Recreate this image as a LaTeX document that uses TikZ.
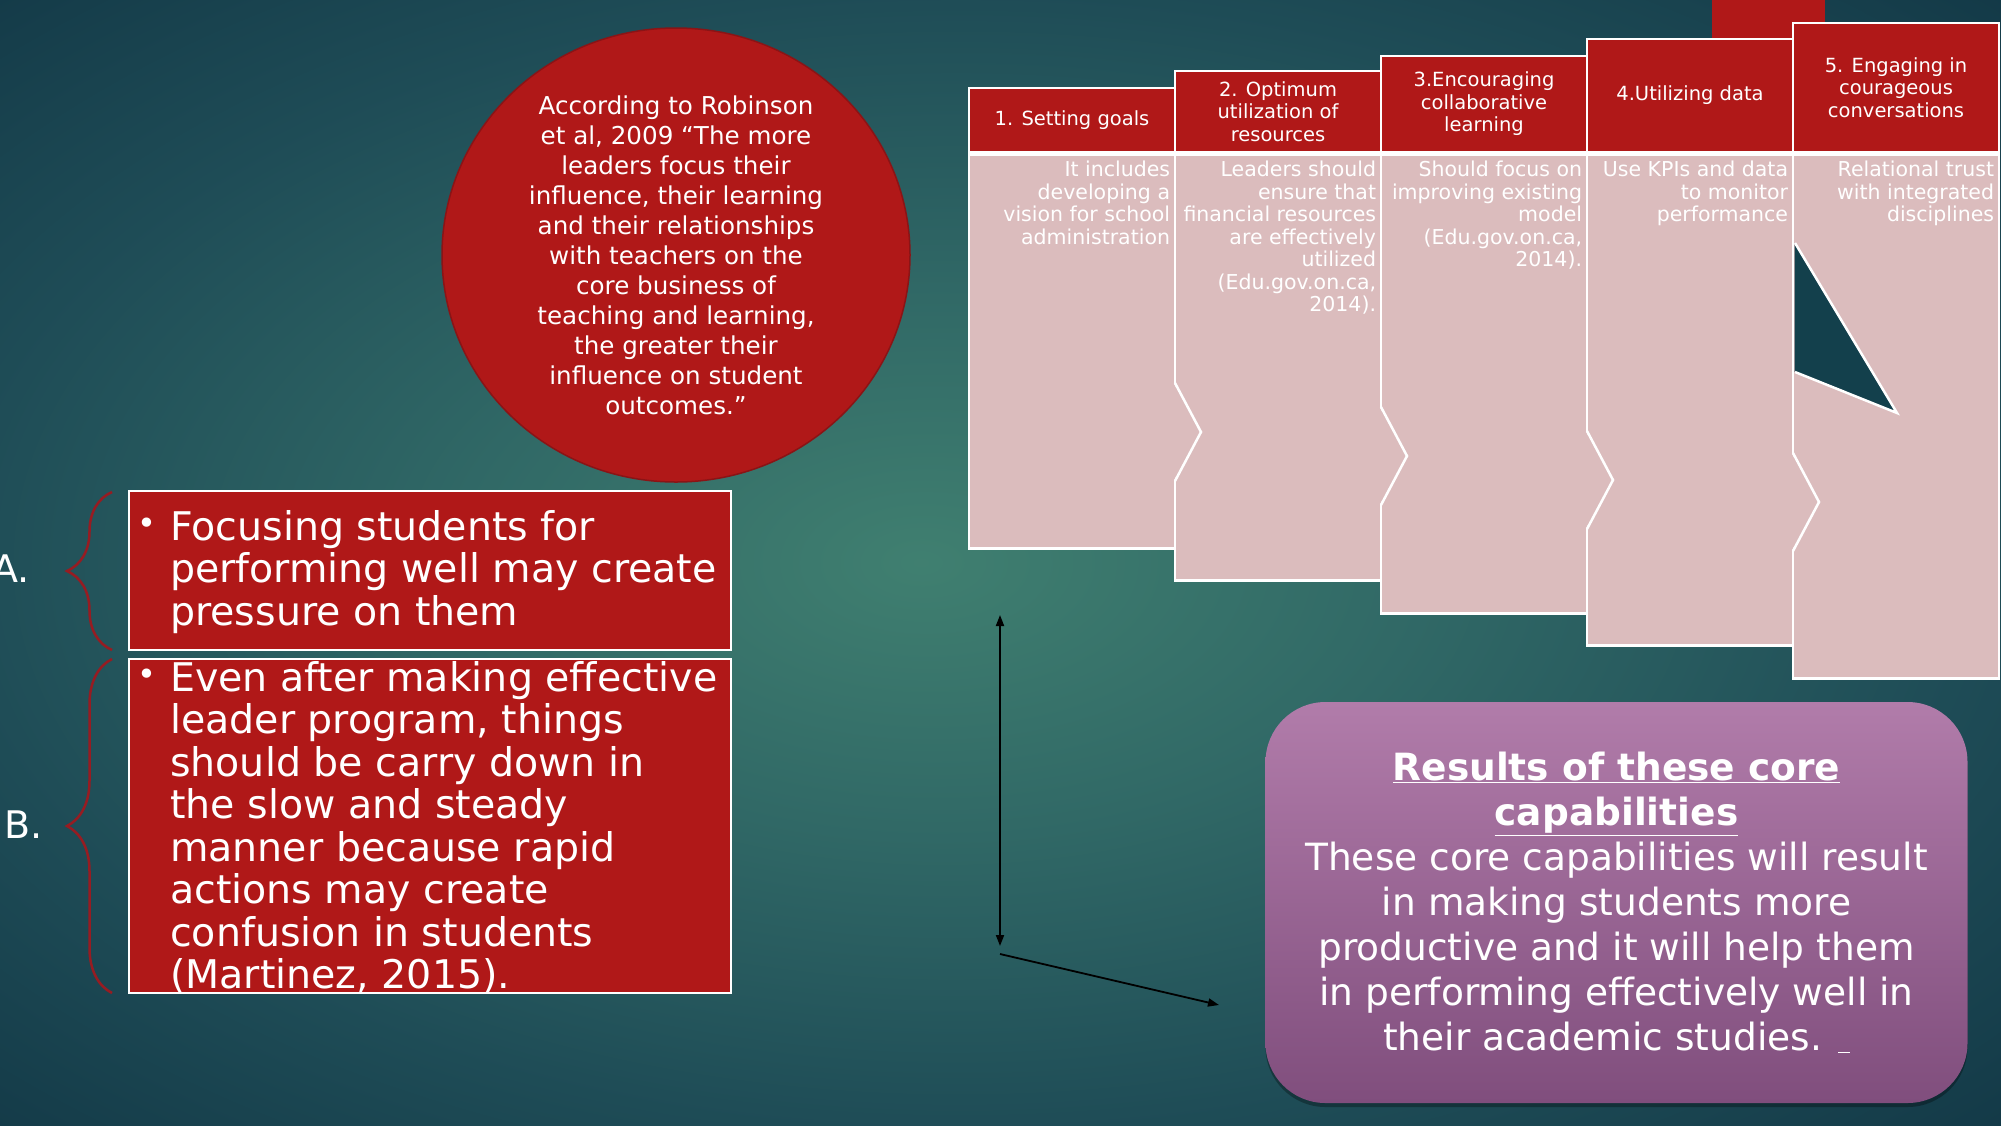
\documentclass[tikz,border=0pt]{standalone}
\usepackage{fontspec}
\setmainfont{DejaVu Sans}
\usetikzlibrary{positioning,arrows.meta,shapes.geometric,decorations.pathreplacing,shadows}

\definecolor{leadred}{RGB}{176,24,24}
\definecolor{ringred}{RGB}{138,20,22}
\definecolor{panelpink}{RGB}{219,188,189}
\definecolor{bracered}{RGB}{150,28,34}
\definecolor{notchdark}{RGB}{19,64,76}
\definecolor{plumtop}{RGB}{177,124,170}
\definecolor{plumbot}{RGB}{128,78,125}

\pgfdeclareradialshading{tealglow}{\pgfpoint{-2bp}{0bp}}{%
  rgb(0bp)=(0.25,0.50,0.44);rgb(12bp)=(0.19,0.41,0.40);%
  rgb(25bp)=(0.12,0.30,0.34);rgb(36bp)=(0.075,0.225,0.28);rgb(50bp)=(0.075,0.225,0.28)}

\newcommand{\bulletmark}{\llap{\raisebox{5.5pt}{\fontsize{32}{32}\selectfont •}\hspace{13.5pt}}}

\begin{document}
\begin{tikzpicture}[x=1pt, y=-1pt,
  head/.style={draw=white, line width=2.5pt, fill=leadred, text=white, minimum width=206pt, align=center, inner sep=0pt, font=\fontsize{19.5}{22.5}\selectfont},
  panel/.style={draw=white, line width=2.5pt, fill=panelpink, minimum width=206pt, inner sep=0pt},
  blurb/.style={text=white, align=right, inner sep=0pt, font=\fontsize{20.5}{22.5}\selectfont},
  redbox/.style={draw=white, line width=2.5pt, fill=leadred, inner sep=0pt},
  point/.style={text=white, align=left, inner sep=0pt, font=\fontsize{39.5}{42.5}\selectfont},
  tag/.style={anchor=base west, inner sep=0pt, text=white, font=\fontsize{38}{38}\selectfont},
  curly/.style={decorate, decoration={brace, amplitude=45pt}, draw=bracered, line width=2.5pt},
  resultbox/.style={rounded corners=60pt, top color=plumtop, bottom color=plumbot, text=white, align=center, inner sep=0pt, font=\fontsize{37.5}{45}\selectfont, drop shadow={shadow xshift=0pt, shadow yshift=-4pt, opacity=0.3, fill=black}},
  arr/.style={-{Triangle[length=11pt,width=8pt]}, line width=1.8pt, black}
]
\useasboundingbox (0,0) rectangle (2001,1125);
\shade[shading=tealglow] (0,0) rectangle (2001,1125);

\fill[leadred] (1712,0) rectangle (1825,38);

\node[head, minimum height=64pt] (h1) at (1072,120) {1. Setting goals};
\node[panel, minimum height=394pt, anchor=north] (p1) at (h1.south) {};
\node[head, minimum height=81pt] (h2) at (1278,111.5) {2. Optimum\\utilization of\\resources};
\node[panel, minimum height=426pt, anchor=north] (p2) at (h2.south) {};
\node[head, minimum height=96pt] (h3) at (1484,104) {3.Encouraging\\collaborative\\learning};
\node[panel, minimum height=459pt, anchor=north] (p3) at (h3.south) {};
\node[head, minimum height=113pt] (h4) at (1690,95.5) {4.Utilizing data};
\node[panel, minimum height=491pt, anchor=north] (p4) at (h4.south) {};
\node[head, minimum height=129pt] (h5) at (1896,87.5) {5. Engaging in\\courageous\\conversations};
\node[panel, minimum height=524pt, anchor=north] (p5) at (h5.south) {};

\fill[panelpink] (1173.5,383) -- (1201,432) -- (1173.5,481) -- cycle;
\draw[white, line width=2.5pt] (1175,383) -- (1201,432) -- (1175,481);
\fill[panelpink] (1379.5,407) -- (1407,456) -- (1379.5,505) -- cycle;
\draw[white, line width=2.5pt] (1381,407) -- (1407,456) -- (1381,505);
\fill[panelpink] (1585.5,431) -- (1613,480) -- (1585.5,529) -- cycle;
\draw[white, line width=2.5pt] (1587,431) -- (1613,480) -- (1587,529);
\fill[panelpink] (1791.5,453) -- (1819,502) -- (1791.5,551) -- cycle;
\draw[white, line width=2.5pt] (1793,453) -- (1819,502) -- (1793,551);

\fill[notchdark] (1794.5,243) -- (1897,413) -- (1794.5,372) -- cycle;
\draw[white, line width=2.5pt] (1795,243) -- (1897,413) -- (1795,372);

\node[blurb, below left=7.5pt and 6pt of p1.north east] (t1) {It includes\\developing a\\vision for school\\administration};
\node[blurb, below left=7.5pt and 6pt of p2.north east] (t2) {Leaders should\\ensure that\\financial resources\\are effectively\\utilized\\(Edu.gov.on.ca,\\2014).};
\node[blurb, below left=7.5pt and 6pt of p3.north east] (t3) {Should focus on\\improving existing\\model\\(Edu.gov.on.ca,\\2014).};
\node[blurb, below left=7.5pt and 6pt of p4.north east] (t4) {Use KPIs and data\\to monitor\\performance};
\node[blurb, below left=7.5pt and 6pt of p5.north east] (t5) {Relational trust\\with integrated\\disciplines};

\node[ellipse, fill=leadred, draw=ringred, line width=1.5pt, minimum width=468pt, minimum height=454pt, inner sep=0pt] (quote) at (676,255) {};
\node[align=center, text=white, inner sep=0pt, font=\fontsize{24.6}{30}\selectfont] (quotetext) at (quote.center) {According to Robinson\\et al, 2009 “The more\\leaders focus their\\influence, their learning\\and their relationships\\with teachers on the\\core business of\\teaching and learning,\\the greater their\\influence on student\\outcomes.”};

\node[redbox, minimum width=602pt, minimum height=159pt] (boxA) at (430,570.5) {};
\node[redbox, minimum width=602pt, minimum height=334pt] (boxB) at (430,826) {};
\node[point, anchor=north west] (ptA) at (170,510) {\bulletmark Focusing students for\\performing well may create\\pressure on them};
\node[point, anchor=north west] (ptB) at (170,661) {\bulletmark Even after making effective\\leader program, things\\should be carry down in\\the slow and steady\\manner because rapid\\actions may create\\confusion in students\\(Martinez, 2015).};

\draw[curly] (112,650) -- (112,492);
\draw[curly] (112,993) -- (112,659);
\node[tag] (labA) at (-8,582) {A.};
\node[tag] (labB) at (4,838) {B.};

\node[resultbox, minimum width=702pt, minimum height=401pt] (result) at (1616.5,902.5) {\textbf{\underline{Results of these core}}\\\textbf{\underline{capabilities}}\\These core capabilities will result\\in making students more\\productive and it will help them\\in performing effectively well in\\their academic studies. \underline{\ }};

\coordinate (spanTop) at (1000,615);
\coordinate (spanBot) at (1000,946);
\coordinate (slantFrom) at (1000,954);
\coordinate (slantTo) at (1219,1005);
\draw[arr, {Triangle[length=11pt,width=8pt]}-{Triangle[length=11pt,width=8pt]}] (spanTop) -- (spanBot);
\draw[arr] (slantFrom) -- (slantTo);
\end{tikzpicture}
\end{document}
